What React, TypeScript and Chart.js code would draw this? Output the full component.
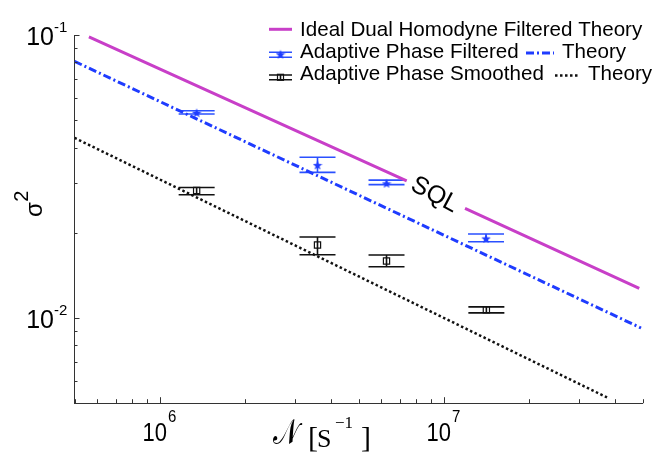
import React, { useEffect, useRef } from 'react';
import { Chart, registerables } from 'chart.js';

Chart.register(...registerables);

// ---- data ----
const sqlTheoryN = [5.62e5, 7.39e6, 9.4e6, 1.186e7, 4.87e7];
const sqlTheorySigma: (number | null)[] = [0.0984, 0.0305, null, 0.0244, 0.01273];

const filteredTheoryN = [5.0e5, 4.94e7];
const filteredTheorySigma = [0.0807, 0.00922];

const smoothedTheoryN = [5.0e5, 3.75e7];
const smoothedTheorySigma = [0.0433, 0.00524];

const filteredN = [1.346e6, 3.586e6, 6.275e6, 1.406e7];
const filteredSigma = [0.0531, 0.0347, 0.0299, 0.0191];
const filteredLow = [0.0526, 0.0327, 0.0296, 0.0186];
const filteredHigh = [0.054, 0.037, 0.0307, 0.0198];

const smoothedN = [1.346e6, 3.586e6, 6.275e6, 1.41e7];
const smoothedSigma = [0.0282, 0.0181, 0.0159, 0.0107];
const smoothedLow = [0.02727, 0.01674, 0.01518, 0.01043];
const smoothedHigh = [0.0289, 0.01932, 0.0167, 0.01095];

const xRange = [5e5, 5e7];
const yRange = [5e-3, 1e-1];
const xMajorTicks = [1e6, 1e7];
const xTickExponents = ['6', '7'];
const yMajorTicks = [1e-1, 1e-2];
const yTickExponents = ['-1', '-2'];

const legendLabels = [
  'Ideal Dual Homodyne Filtered Theory',
  'Adaptive Phase Filtered',
  'Adaptive Phase Smoothed',
];
const legendTheoryLabel = 'Theory';
const sqlLabel = 'SQL';
const xTitleSymbol = '𝒩';
const xTitleUnit = 'S';
const xTitleUnitExp = '−1';
const yTitleSymbol = 'σ';
const yTitleExp = '2';

// ---- styles ----
const BLUE = '#1f3cff';
const BLUE_ERR = '#2a50ff';
const MAGENTA = '#c83fc8';
const BLACK = '#111111';
const AXIS = '#333333';
const SANS = '"Liberation Sans", Arial, sans-serif';
const SERIF = '"Liberation Serif", "Times New Roman", serif';

function makeStar(color: string, size: number) {
  const c = document.createElement('canvas');
  c.width = size;
  c.height = size;
  const g = c.getContext('2d')!;
  const cx = size / 2;
  const cy = size / 2 + 0.5;
  const R = size / 2;
  const r = R * 0.42;
  g.beginPath();
  for (let i = 0; i < 10; i++) {
    const rad = i % 2 === 0 ? R : r;
    const a = -Math.PI / 2 + (i * Math.PI) / 5;
    const px = cx + rad * Math.cos(a);
    const py = cy + rad * Math.sin(a);
    if (i === 0) g.moveTo(px, py);
    else g.lineTo(px, py);
  }
  g.closePath();
  g.fillStyle = color;
  g.fill();
  return c;
}

function pts(xs: number[], ys: (number | null)[]) {
  return xs.map((x, i) => ({ x, y: ys[i] }));
}

function drawErr(ctx: CanvasRenderingContext2D, px: number, pl: number, ph: number, half: number, color: string) {
  ctx.save();
  ctx.strokeStyle = color;
  ctx.lineWidth = 1.6;
  ctx.beginPath();
  ctx.moveTo(px, pl);
  ctx.lineTo(px, ph);
  ctx.moveTo(px - half, pl);
  ctx.lineTo(px + half, pl);
  ctx.moveTo(px - half, ph);
  ctx.lineTo(px + half, ph);
  ctx.stroke();
  ctx.restore();
}

function text(
  ctx: CanvasRenderingContext2D,
  s: string,
  x: number,
  y: number,
  font: string,
  align: CanvasTextAlign = 'left',
  sy = 1,
) {
  ctx.save();
  ctx.font = font;
  ctx.fillStyle = '#000';
  ctx.textAlign = align;
  ctx.textBaseline = 'alphabetic';
  ctx.translate(x, y);
  ctx.scale(1, sy);
  ctx.fillText(s, 0, 0);
  ctx.restore();
}

export default function App() {
  const ref = useRef<HTMLCanvasElement | null>(null);

  useEffect(() => {
    const canvas = ref.current!;
    const star = makeStar(BLUE, 10);

    const plugin = {
      id: 'customDecor',
      beforeDatasetsDraw(chart: any) {
        const { ctx, scales } = chart;
        const xs = scales.x;
        const ys = scales.y;
        filteredN.forEach((v, i) =>
          drawErr(ctx, xs.getPixelForValue(v), ys.getPixelForValue(filteredLow[i]), ys.getPixelForValue(filteredHigh[i]), 18, BLUE_ERR),
        );
        smoothedN.forEach((v, i) =>
          drawErr(ctx, xs.getPixelForValue(v), ys.getPixelForValue(smoothedLow[i]), ys.getPixelForValue(smoothedHigh[i]), 18, BLACK),
        );
      },
      afterDraw(chart: any) {
        const { ctx, scales, chartArea } = chart;
        const xs = scales.x;
        const ys = scales.y;
        const { left, bottom } = chartArea;

        // inward ticks
        ctx.save();
        ctx.strokeStyle = AXIS;
        ctx.lineWidth = 1;
        ctx.beginPath();
        for (let e = Math.floor(Math.log10(xRange[0])); e <= Math.ceil(Math.log10(xRange[1])); e++) {
          for (let k = 1; k <= 9; k++) {
            const v = k * Math.pow(10, e);
            if (v < xRange[0] * 0.999 || v > xRange[1] * 1.001) continue;
            const px = Math.round(xs.getPixelForValue(v)) + 0.5;
            const len = k === 1 ? 6 : 4;
            ctx.moveTo(px, bottom);
            ctx.lineTo(px, bottom - len);
          }
        }
        for (let e = Math.floor(Math.log10(yRange[0])); e <= Math.ceil(Math.log10(yRange[1])); e++) {
          for (let k = 1; k <= 9; k++) {
            const v = k * Math.pow(10, e);
            if (v < yRange[0] * 0.999 || v > yRange[1] * 1.001) continue;
            const py = Math.round(ys.getPixelForValue(v)) + 0.5;
            const len = k === 1 ? 5 : 3;
            ctx.moveTo(left, py);
            ctx.lineTo(left + len, py);
          }
        }
        ctx.stroke();
        ctx.restore();

        // x tick labels
        xMajorTicks.forEach((v, i) => {
          const px = xs.getPixelForValue(v);
          ctx.save();
          ctx.font = `22px ${SANS}`;
          const w1 = ctx.measureText('10').width;
          ctx.font = `15px ${SANS}`;
          const w2 = ctx.measureText(xTickExponents[i]).width;
          ctx.restore();
          const x0 = px - (w1 + w2) / 2 - 1;
          text(ctx, '10', x0, 441, `22px ${SANS}`, 'left', 1.2);
          text(ctx, xTickExponents[i], x0 + w1 + 1, 422, `15px ${SANS}`, 'left', 1.1);
        });
        // y tick labels
        yMajorTicks.forEach((v, i) => {
          const py = ys.getPixelForValue(v);
          text(ctx, '10', 54, py + 9.5, `25px ${SANS}`, 'right', 1.05);
          text(ctx, yTickExponents[i], 54, py - 3, `15px ${SANS}`, 'left');
        });

        // axis titles
        text(ctx, xTitleSymbol, 273, 444, `27px ${SERIF}`, 'left', 1.3);
        text(ctx, '[', 308, 447, `30px ${SERIF}`, 'left');
        text(ctx, xTitleUnit, 317, 446.5, `26px ${SERIF}`, 'left');
        text(ctx, xTitleUnitExp, 335, 428, `17px ${SERIF}`, 'left');
        text(ctx, ']', 361, 447, `30px ${SERIF}`, 'left');

        ctx.save();
        ctx.translate(42, 217);
        ctx.rotate(-Math.PI / 2);
        ctx.fillStyle = '#000';
        ctx.font = `24px ${SANS}`;
        ctx.textBaseline = 'alphabetic';
        ctx.fillText(yTitleSymbol, 0, 0);
        const sw = ctx.measureText(yTitleSymbol).width;
        ctx.font = `20px ${SANS}`;
        ctx.fillText(yTitleExp, sw + 0.5, -13.7);
        ctx.restore();

        // SQL label
        ctx.save();
        ctx.translate(434.5, 195);
        ctx.rotate((28 * Math.PI) / 180);
        ctx.font = `25px ${SANS}`;
        ctx.fillStyle = '#000';
        ctx.textAlign = 'center';
        ctx.textBaseline = 'middle';
        ctx.fillText(sqlLabel, 0, 0);
        ctx.restore();

        // legend
        const f = `20.6px ${SANS}`;
        const rows = [35.7, 58, 80.3];
        ctx.save();
        ctx.strokeStyle = MAGENTA;
        ctx.lineWidth = 3;
        ctx.beginPath();
        ctx.moveTo(269, 29.3);
        ctx.lineTo(292, 29.3);
        ctx.stroke();
        ctx.restore();
        text(ctx, legendLabels[0], 300, rows[0], f);

        drawErr(ctx, 280.5, 57.3, 52.3, 11.5, BLUE_ERR);
        ctx.drawImage(star, 280.5 - 5, 54.3 - 5);
        text(ctx, legendLabels[1], 300, rows[1], f);
        ctx.save();
        ctx.strokeStyle = BLUE;
        ctx.lineWidth = 3;
        ctx.setLineDash([8, 3, 2, 3]);
        ctx.beginPath();
        ctx.moveTo(526, 53);
        ctx.lineTo(554, 53);
        ctx.stroke();
        ctx.restore();
        text(ctx, legendTheoryLabel, 562, rows[1], f);

        drawErr(ctx, 280.5, 79.7, 75, 11.5, BLACK);
        ctx.save();
        ctx.strokeStyle = BLACK;
        ctx.lineWidth = 1.2;
        ctx.strokeRect(277.5, 74.3, 6, 6);
        ctx.restore();
        text(ctx, legendLabels[2], 300, rows[2], f);
        ctx.save();
        ctx.strokeStyle = BLACK;
        ctx.lineWidth = 2.5;
        ctx.setLineDash([2.5, 2.5]);
        ctx.beginPath();
        ctx.moveTo(555, 75.5);
        ctx.lineTo(580, 75.5);
        ctx.stroke();
        ctx.restore();
        text(ctx, legendTheoryLabel, 588, rows[2], f);
      },
    };

    const chart = new Chart(canvas, {
      type: 'scatter',
      data: {
        datasets: [
          {
            label: legendLabels[0],
            data: pts(sqlTheoryN, sqlTheorySigma),
            showLine: true,
            spanGaps: false,
            borderColor: MAGENTA,
            borderWidth: 3,
            pointRadius: 0,
          },
          {
            label: legendLabels[1],
            data: pts(filteredN, filteredSigma),
            showLine: false,
            pointStyle: star as any,
            pointRadius: 5,
            borderColor: BLUE,
            backgroundColor: BLUE,
          },
          {
            label: legendTheoryLabel,
            data: pts(filteredTheoryN, filteredTheorySigma),
            showLine: true,
            borderColor: BLUE,
            borderWidth: 3,
            borderDash: [8, 3, 2, 3],
            pointRadius: 0,
          },
          {
            label: legendLabels[2],
            data: pts(smoothedN, smoothedSigma),
            showLine: false,
            pointStyle: 'rect',
            pointRadius: 4.4,
            borderWidth: 1.2,
            borderColor: BLACK,
            backgroundColor: 'rgba(0,0,0,0)',
          },
          {
            label: legendTheoryLabel,
            data: pts(smoothedTheoryN, smoothedTheorySigma),
            showLine: true,
            borderColor: BLACK,
            borderWidth: 2.5,
            borderDash: [2.5, 2.5],
            pointRadius: 0,
          },
        ],
      },
      options: {
        animation: false,
        responsive: false,
        devicePixelRatio: 1,
        layout: { padding: { left: 0, top: 35, right: 11.5, bottom: 0 } },
        plugins: { legend: { display: false }, tooltip: { enabled: false } },
        scales: {
          x: {
            type: 'logarithmic',
            min: xRange[0],
            max: xRange[1],
            grid: { display: false },
            ticks: { display: false },
            border: { display: true, color: AXIS, width: 1 },
            afterFit: (s: any) => {
              s.height = 51.8;
            },
          },
          y: {
            type: 'logarithmic',
            min: yRange[0],
            max: yRange[1],
            grid: { display: false },
            ticks: { display: false },
            border: { display: true, color: AXIS, width: 1 },
            afterFit: (s: any) => {
              s.width = 74.5;
            },
          },
        },
      },
      plugins: [plugin],
    } as any);

    return () => chart.destroy();
  }, []);

  return (
    <div style={{ position: 'fixed', left: 0, top: 0, width: 654, height: 455, background: '#fff' }}>
      <canvas ref={ref} width={654} height={455} style={{ display: 'block' }} />
    </div>
  );
}
